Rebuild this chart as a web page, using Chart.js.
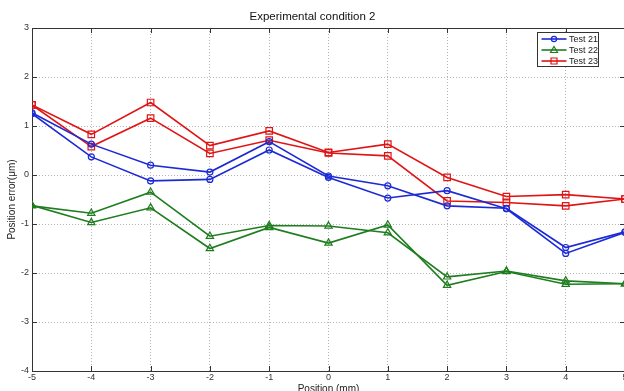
<!DOCTYPE html>
<html>
<head>
<meta charset="utf-8">
<script src="https://cdn.jsdelivr.net/npm/chart.js@4"></script>
<style>
  html, body { margin: 0; padding: 0; background: #fff; overflow: hidden; }
  canvas { display: block; }
</style>
</head>
<body>
<canvas id="chart" width="625" height="391"></canvas>
<script>
// posiciones medidas (mm)
const positions = [-5, -4, -3, -2, -1, 0, 1, 2, 3, 4, 5];

// dos pasadas por cada ensayo
const test21a = [1.27, 0.63, 0.20, 0.06, 0.68, -0.02, -0.22, -0.63, -0.68, -1.48, -1.16];
const test21b = [1.25, 0.37, -0.12, -0.09, 0.51, -0.05, -0.47, -0.32, -0.69, -1.60, -1.17];
const test22a = [-0.63, -0.78, -0.35, -1.25, -1.03, -1.04, -1.18, -2.08, -1.96, -2.16, -2.22];
const test22b = [-0.62, -0.97, -0.67, -1.50, -1.07, -1.39, -1.02, -2.25, -1.97, -2.23, -2.22];
const test23a = [1.43, 0.83, 1.48, 0.60, 0.90, 0.46, 0.63, -0.05, -0.44, -0.40, -0.49];
const test23b = [1.43, 0.58, 1.16, 0.44, 0.71, 0.45, 0.39, -0.53, -0.56, -0.63, -0.49];

const xTicks = [-5, -4, -3, -2, -1, 0, 1, 2, 3, 4, 5];
const yTicks = [-4, -3, -2, -1, 0, 1, 2, 3];

const legendLabels = ['Test 21', 'Test 22', 'Test 23'];

const BLUE = '#1c2ad6';
const GREEN = '#1e7d1e';
const RED = '#e01414';
const FONT = '"Liberation Sans", Arial, sans-serif';

function serie(values, color, style, radius, inLegend) {
  return {
    label: inLegend,
    data: positions.map((x, i) => ({ x: x, y: values[i] })),
    borderColor: color,
    borderWidth: 1.6,
    pointStyle: style,
    pointRadius: radius,
    pointBorderWidth: 1.2,
    pointBorderColor: color,
    pointBackgroundColor: 'rgba(0,0,0,0)',
    tension: 0
  };
}

// marco, ticks hacia adentro y leyenda estilo matlab
const frameLegend = {
  id: 'frameLegend',
  afterDatasetsDraw(chart) {
    const ctx = chart.ctx;
    const a = chart.chartArea;
    const xs = chart.scales.x, ys = chart.scales.y;
    ctx.save();
    ctx.strokeStyle = '#333';
    ctx.lineWidth = 1;
    ctx.beginPath();
    ctx.moveTo(a.left, a.top + 0.5);
    ctx.lineTo(a.right, a.top + 0.5);
    ctx.moveTo(a.right - 0.5, a.top);
    ctx.lineTo(a.right - 0.5, a.bottom);
    xTicks.forEach(v => {
      const px = Math.round(xs.getPixelForValue(v)) + 0.5;
      ctx.moveTo(px, a.bottom); ctx.lineTo(px, a.bottom - 5);
      ctx.moveTo(px, a.top); ctx.lineTo(px, a.top + 5);
    });
    yTicks.forEach(v => {
      const py = Math.round(ys.getPixelForValue(v)) + 0.5;
      ctx.moveTo(a.left, py); ctx.lineTo(a.left + 5, py);
      ctx.moveTo(a.right, py); ctx.lineTo(a.right - 5, py);
    });
    ctx.stroke();

    // leyenda
    const bx = 537.5, by = 32.5, bw = 61, bh = 34;
    ctx.fillStyle = '#fff';
    ctx.fillRect(bx, by, bw, bh);
    ctx.strokeStyle = '#333';
    ctx.strokeRect(bx, by, bw, bh);
    const entries = [
      { color: BLUE, style: 'circle' },
      { color: GREEN, style: 'triangle' },
      { color: RED, style: 'rect' }
    ];
    ctx.font = '9px ' + FONT;
    ctx.textBaseline = 'middle';
    entries.forEach((e, i) => {
      const y = by + 6.5 + i * 11;
      ctx.strokeStyle = e.color;
      ctx.lineWidth = 1.6;
      ctx.beginPath();
      ctx.moveTo(bx + 4, y);
      ctx.lineTo(bx + 29, y);
      ctx.stroke();
      const cx = bx + 16.5;
      ctx.lineWidth = 1.2;
      ctx.beginPath();
      if (e.style === 'circle') {
        ctx.arc(cx, y, 2.6, 0, Math.PI * 2);
      } else if (e.style === 'triangle') {
        ctx.moveTo(cx, y - 3.5);
        ctx.lineTo(cx + 3.5, y + 2.5);
        ctx.lineTo(cx - 3.5, y + 2.5);
        ctx.closePath();
      } else {
        ctx.rect(cx - 3, y - 3, 6, 6);
      }
      ctx.stroke();
      ctx.fillStyle = '#222';
      ctx.fillText(legendLabels[i], bx + 31.5, y + 0.5);
    });
    ctx.restore();
  }
};

const ctx = document.getElementById('chart').getContext('2d');

new Chart(ctx, {
  type: 'line',
  data: {
    datasets: [
      serie(test21a, BLUE, 'circle', 3, legendLabels[0]),
      serie(test21b, BLUE, 'circle', 3, legendLabels[0]),
      serie(test22a, GREEN, 'triangle', 4.2, legendLabels[1]),
      serie(test22b, GREEN, 'triangle', 4.2, legendLabels[1]),
      serie(test23a, RED, 'rect', 4.6, legendLabels[2]),
      serie(test23b, RED, 'rect', 4.6, legendLabels[2])
    ]
  },
  options: {
    responsive: false,
    animation: false,
    layout: { autoPadding: false, padding: { left: 0, right: 0, top: 0, bottom: 0 } },
    plugins: {
      legend: { display: false },
      tooltip: { enabled: false },
      title: {
        display: true,
        text: 'Experimental condition 2',
        color: '#111',
        font: { family: FONT, size: 11.5, weight: 'normal' },
        padding: { top: 10, bottom: 4.2 }
      }
    },
    scales: {
      x: {
        type: 'linear',
        min: -5,
        max: 5,
        afterFit: s => { s.height = 20; s.paddingRight = 0; },
        afterBuildTicks: s => { s.ticks = xTicks.map(v => ({ value: v })); },
        ticks: { color: '#333', font: { family: FONT, size: 9 }, padding: 1, maxRotation: 0, autoSkip: false },
        grid: { color: '#b4b4b4', drawTicks: false, lineWidth: 1 },
        border: { color: '#333', width: 1, dash: [1, 2] },
        title: {
          display: true,
          text: 'Position (mm)',
          color: '#222',
          font: { family: FONT, size: 10 },
          padding: { top: 0, bottom: -4 }
        }
      },
      y: {
        type: 'linear',
        min: -4,
        max: 3,
        afterFit: s => { s.width = 32; },
        afterBuildTicks: s => { s.ticks = yTicks.map(v => ({ value: v })); },
        ticks: { color: '#333', font: { family: FONT, size: 9 }, padding: 3 },
        grid: { color: '#b4b4b4', drawTicks: false, lineWidth: 1 },
        border: { color: '#333', width: 1, dash: [1, 2] },
        title: {
          display: true,
          text: 'Position error(μm)',
          color: '#222',
          font: { family: FONT, size: 10 },
          padding: { top: 6, bottom: 0 }
        }
      }
    }
  },
  plugins: [frameLegend]
});
</script>
</body>
</html>
